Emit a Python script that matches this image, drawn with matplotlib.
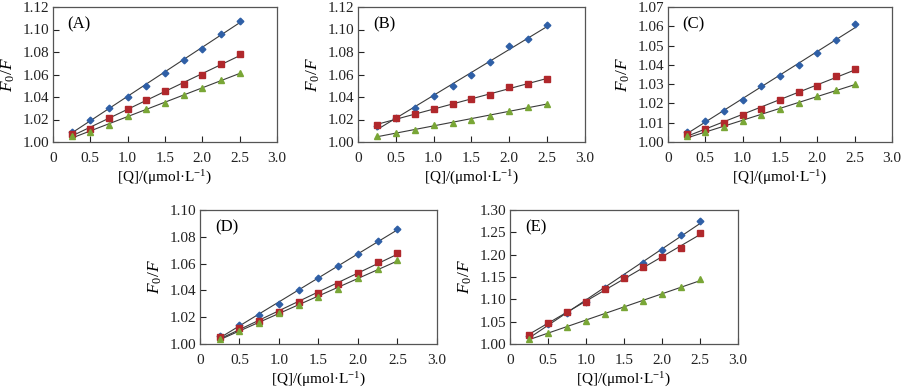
import numpy as np
import matplotlib.pyplot as plt

plt.rcParams['font.family'] = ['Liberation Serif', 'DejaVu Serif']
plt.rcParams['mathtext.fontset'] = 'custom'
plt.rcParams['mathtext.it'] = 'Liberation Serif:italic'
plt.rcParams['mathtext.rm'] = 'Liberation Serif'

# ===================== data =====================
conc = [0.25, 0.5, 0.75, 1.0, 1.25, 1.5, 1.75, 2.0, 2.25, 2.5]

a_blue = [1.009, 1.020, 1.030, 1.040, 1.050, 1.061, 1.073, 1.083, 1.096, 1.108]
a_red = [1.007, 1.012, 1.021, 1.029, 1.037, 1.045, 1.052, 1.060, 1.069, 1.078]
a_green = [1.005, 1.009, 1.015, 1.023, 1.029, 1.035, 1.042, 1.048, 1.055, 1.061]

b_blue = [1.014, 1.021, 1.030, 1.041, 1.050, 1.060, 1.071, 1.085, 1.092, 1.104]
b_red = [1.015, 1.021, 1.025, 1.029, 1.034, 1.038, 1.042, 1.049, 1.052, 1.056]
b_green = [1.005, 1.008, 1.011, 1.015, 1.017, 1.020, 1.023, 1.028, 1.031, 1.034]

c_blue = [1.005, 1.011, 1.016, 1.022, 1.029, 1.034, 1.040, 1.046, 1.053, 1.061]
c_red = [1.004, 1.007, 1.010, 1.014, 1.017, 1.022, 1.026, 1.029, 1.034, 1.038]
c_green = [1.003, 1.005, 1.008, 1.011, 1.014, 1.017, 1.020, 1.024, 1.027, 1.030]

d_blue = [1.006, 1.014, 1.022, 1.030, 1.040, 1.049, 1.058, 1.067, 1.077, 1.086]
d_red = [1.005, 1.012, 1.017, 1.024, 1.031, 1.038, 1.045, 1.053, 1.061, 1.068]
d_green = [1.004, 1.010, 1.016, 1.023, 1.029, 1.035, 1.041, 1.049, 1.056, 1.063]

e_blue = [1.018, 1.045, 1.070, 1.095, 1.125, 1.150, 1.182, 1.210, 1.244, 1.276]
e_red = [1.021, 1.046, 1.071, 1.095, 1.124, 1.147, 1.172, 1.195, 1.214, 1.248]
e_green = [1.012, 1.025, 1.039, 1.052, 1.067, 1.082, 1.097, 1.111, 1.127, 1.145]

x_ticks = [0, 0.5, 1.0, 1.5, 2.0, 2.5, 3.0]
x_tick_labels = ["0", "0.5", "1.0", "1.5", "2.0", "2.5", "3.0"]

# panel label, series, y range, y tick step, axes box in pixels (left, top, right, bottom)
panels = [
    ("(A)", [a_blue, a_red, a_green], (1.00, 1.12), 0.02, (53, 7, 277, 142)),
    ("(B)", [b_blue, b_red, b_green], (1.00, 1.12), 0.02, (358, 7, 585, 142)),
    ("(C)", [c_blue, c_red, c_green], (1.00, 1.07), 0.01, (668, 7, 892, 142)),
    ("(D)", [d_blue, d_red, d_green], (1.00, 1.10), 0.02, (200, 210, 437, 344)),
    ("(E)", [e_blue, e_red, e_green], (1.00, 1.30), 0.05, (510, 210, 738, 344)),
]

styles = [
    dict(marker="D", color="#2f5fa6", ms=3.4),
    dict(marker="s", color="#b0282c", ms=5),
    dict(marker="^", color="#79a636", ms=5),
]

W, H = 904, 391
fig = plt.figure(figsize=(W / 100, H / 100), dpi=100)

for label, series, ylim, ystep, (l, t, r, b) in panels:
    ax = fig.add_axes([l / W, 1 - b / H, (r - l) / W, (b - t) / H])
    for ys, st in zip(series, styles):
        # fitted straight line through each series
        k, c0 = np.polyfit(conc, ys, 1)
        xs = np.array([conc[0], conc[-1]])
        ax.plot(xs, k * xs + c0, color="#3a3a3a", lw=0.8, zorder=2)
        ax.plot(conc, ys, ls="none", marker=st["marker"], color=st["color"],
                ms=st["ms"], mec=st["color"], zorder=3)
    ax.set_xlim(0, 3.0)
    ax.set_ylim(*ylim)
    ax.set_xticks(x_ticks)
    ax.set_xticklabels(x_tick_labels)
    yt = np.arange(ylim[0], ylim[1] + ystep / 2, ystep)
    ax.set_yticks(yt)
    ax.set_yticklabels(["{:.2f}".format(v) for v in yt])
    ax.tick_params(direction="in", length=4, width=0.8, labelsize=11, colors="#222222")
    ax.tick_params(axis="y", pad=3)
    ax.tick_params(axis="x", pad=7)
    for sp in ax.spines.values():
        sp.set_color("#555555")
        sp.set_linewidth(0.9)
    ax.set_xlabel(r"[Q]/(μmol·L$^{-1}$)", fontsize=11, labelpad=3)
    ax.set_ylabel(r"$F_0/F$", fontsize=12.5, labelpad=4)
    ax.text(0.065, 0.93, label, transform=ax.transAxes, fontsize=12, va="top", ha="left")

fig.savefig("out.png", dpi=100)
